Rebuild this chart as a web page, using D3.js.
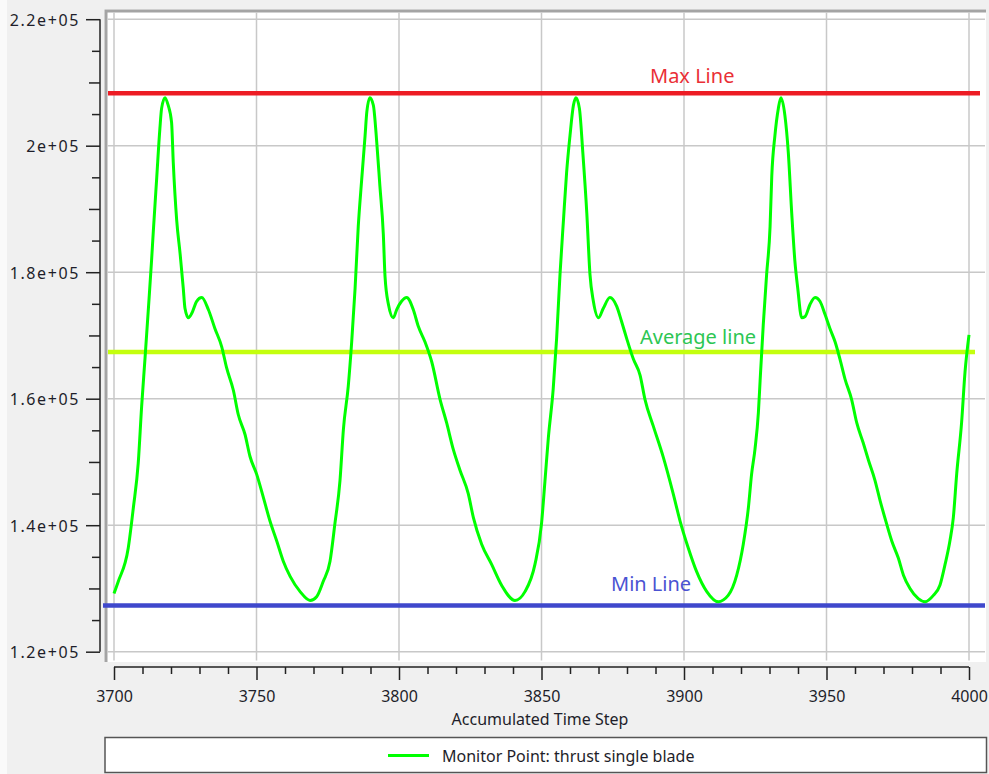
<!DOCTYPE html>
<html lang="en">
<head>
	<meta charset="UTF-8">
	<script src="https://d3js.org/d3.v7.min.js"></script>
	<title>Monitor Point: thrust single blade</title>
	<style>
		body {
			margin: 0;
			background: #f0f0f0;
		}
		svg {
			display: block;
			font-family: "Noto Sans", sans-serif;
		}
	</style>
</head>
<body>
	<svg width="989" height="774"></svg>

	<script>
		// values
		const timeSteps = [
			3700, 3701.5, 3705, 3706.8, 3708.5, 3709.7, 3710.9, 3712, 3713.2, 3713.8, 3715, 3716.1, 3716.7, 3717.9,
			3719, 3720.2, 3720.8, 3722, 3723.2, 3724.3, 3724.9, 3726.1, 3727.3, 3729, 3730.8, 3733.1, 3735.4, 3737.8,
			3739.5, 3741.9, 3743.6, 3746, 3747.7, 3750.1, 3752.4, 3754.7, 3757.1, 3759.4, 3761.8, 3765.3, 3768.8,
			3771.1, 3773.4,
			3775.8, 3777.5, 3779.3, 3780.5, 3782.2, 3783.4, 3784.6, 3785.7, 3786.9, 3788.1, 3788.7, 3789.8, 3791,
			3792.2, 3793.3, 3794.5, 3795.1, 3796.3, 3798, 3799.2, 3800.9, 3802.7, 3805, 3806.8, 3809.1, 3811.5,
			3814.4, 3816.7, 3819.1, 3821.4, 3824.3, 3826.1, 3829, 3832.5, 3836, 3840.7, 3844.2, 3847.7, 3850,
			3851.2, 3852.4, 3854.1, 3855.3, 3856.5, 3857.7, 3858.8, 3860, 3861.2, 3862.1, 3863.3, 3864.5, 3865.9,
			3867, 3868.2, 3870, 3871.7, 3874, 3876.4, 3878.1, 3879.9, 3882.2, 3884.6, 3886.3, 3889.2, 3892.7,
			3896.2, 3898.6, 3901.5, 3904.4, 3908, 3912, 3915.5, 3918.5, 3920.8, 3922.6, 3923.7,
			3924.9, 3926.1, 3926.7, 3927.8, 3929, 3930.2, 3930.8, 3931.9, 3933.1, 3934, 3935.4, 3936.6, 3937.8,
			3938.9, 3939.9, 3941.3, 3942.5, 3944.2, 3946, 3947.7, 3949.5, 3951.2, 3953, 3954.7, 3956.5, 3958.8,
			3960.6, 3962.9, 3964.7, 3967, 3968.8, 3971.1, 3972.9, 3975.2, 3977, 3979.3, 3982.2, 3984.6, 3987.5,
			3989.8, 3991.6, 3993.3, 3994.5, 3995.7, 3997.4, 3998.6, 4000
		];
		const thrust = [
			129200, 131100, 136400, 142800, 149800, 158800, 166500, 173800, 182000, 186500, 195000, 202700, 205900, 207600,
			206400, 203700, 197300, 188200, 182900, 177500, 174300, 172800, 173500, 175400, 176000, 174100, 171100, 168200,
			164900, 161300, 157500, 154300, 150900, 148000, 144400, 140700, 137500, 134300, 131900, 129500, 128100,
			128700, 131100,
			134300, 140200, 147100, 155200, 162000, 169000, 177500, 187200, 194600, 201600, 205300, 207600, 206400,
			200500, 193600, 186000, 179300, 174900, 172800, 174100, 175400, 176000, 174100, 171400, 169000, 165800,
			159900, 156200, 151900, 148700, 145000, 141200, 137000, 133800, 130500, 128100, 129500, 133800, 140200,
			146900, 153800, 161500, 169500, 179700, 188200, 195700, 201600, 206400, 207600, 205900, 198900, 189300,
			179700, 175400, 172800, 174300, 176000, 174600, 172200, 169500, 166300, 163700, 159900, 155700, 150800,
			145000, 140700, 136400, 132700, 129500, 127900, 128900, 132100, 137000, 142800, 148000,
			152000, 157800, 162800, 171600, 179700, 187200, 195200, 201600, 205900, 207600, 204800, 198900, 189300,
			181800, 177500, 172800, 173000, 174900, 176000, 175400, 173300, 171100, 169000, 166300, 163100, 159900,
			156200, 153000, 150300, 147100, 143900, 140200, 137500, 134800, 132100, 130000, 128400, 127900, 128900,
			130500, 133800, 137500, 141200, 148200, 156200, 164200, 170100
		];

		const refNames = ['Max Line', 'Average line', 'Min Line'];
		const refValues = [208300, 167400, 127300];
		const refColors = ['#ed1c24', '#c4ff0e', '#3f48cc'];
		const refTextColors = ['#ea2f36', '#2dc653', '#4a52d2'];

		const xTicks = d3.range(3700, 4001, 50);
		const yTicks = d3.range(120000, 220001, 20000);
		const seriesName = 'Monitor Point: thrust single blade';
		const xTitle = 'Accumulated Time Step';

		const svg = d3.select('svg');

		const x = d3.scaleLinear().domain([3700, 4000]).range([114, 969]);
		const y = d3.scaleLinear().domain([120000, 220000]).range([651.7, 19.2]);

		svg.append('rect').attr('width', 989).attr('height', 774).attr('fill', '#f0f0f0');
		svg.append('rect').attr('width', 7).attr('height', 774).attr('fill', '#fafafa');

		// plot frame
		svg.append('rect')
			.attr('x', 104.5).attr('y', 9.5)
			.attr('width', 881.5).attr('height', 652.5)
			.attr('fill', '#fff');
		svg.append('path')
			.attr('d', 'M106,662V11H986')
			.attr('fill', 'none')
			.attr('stroke', '#a4a4a4')
			.attr('stroke-width', 3);

		// grid
		const grid = svg.append('g').attr('stroke', '#c8c8c8').attr('stroke-width', 1.5);
		grid.selectAll('.vx')
			.data(xTicks)
			.enter()
			.append('line')
			.attr('x1', d => x(d)).attr('x2', d => x(d))
			.attr('y1', 12.5).attr('y2', 660.5);
		grid.selectAll('.hy')
			.data(yTicks)
			.enter()
			.append('line')
			.attr('x1', 107.5).attr('x2', 985)
			.attr('y1', d => y(d)).attr('y2', d => y(d));

		// reference lines
		const refSpan = [[108, 980], [108, 975], [103, 985]];
		svg.append('g')
			.selectAll('line')
			.data(refValues)
			.enter()
			.append('line')
			.attr('x1', (d, i) => refSpan[i][0])
			.attr('x2', (d, i) => refSpan[i][1])
			.attr('y1', d => y(d)).attr('y2', d => y(d))
			.attr('stroke', (d, i) => refColors[i])
			.attr('stroke-width', 4.5);

		// series
		const line = d3.line()
			.x(d => x(d[0]))
			.y(d => y(d[1]))
			.curve(d3.curveMonotoneX);
		svg.append('path')
			.datum(d3.zip(timeSteps, thrust))
			.attr('d', line)
			.attr('fill', 'none')
			.attr('stroke', '#00ff00')
			.attr('stroke-width', 3)
			.attr('stroke-linejoin', 'round');

		// reference labels
		const refLabelPos = [[650, 82.5], [640, 344], [611, 591]];
		svg.append('g')
			.selectAll('text')
			.data(refNames)
			.enter()
			.append('text')
			.attr('x', (d, i) => refLabelPos[i][0])
			.attr('y', (d, i) => refLabelPos[i][1])
			.attr('fill', (d, i) => refTextColors[i])
			.style('font-size', '20px')
			.text(d => d);

		// y axis
		const yAxis = d3.axisLeft(y)
			.tickValues(d3.range(120000, 220001, 5000))
			.tickSize(14)
			.tickPadding(6)
			.tickFormat(d => d % 20000 === 0 ? `${+(d / 1e5).toFixed(1)}e+05` : '');
		const gy = svg.append('g').attr('transform', 'translate(100,0)').call(yAxis);
		gy.select('.domain').attr('d', `M0,${y(220000)}V${y(120000)}`);
		gy.selectAll('.tick line')
			.attr('x2', d => d % 20000 === 0 ? -14 : (d % 10000 === 0 ? -11 : -8));
		gy.selectAll('.tick text')
			.attr('dy', null)
			.attr('y', 6)
			.style('font-size', '16px')
			.style('letter-spacing', '1.6px');

		// x axis
		const xAxis = d3.axisBottom(x)
			.tickValues(d3.range(3700, 4001, 10))
			.tickSize(7)
			.tickFormat(d => d % 50 === 0 ? d : '');
		const gx = svg.append('g').attr('transform', 'translate(0,667)').call(xAxis);
		gx.select('.domain').attr('d', `M${x(3700)},0H${x(4000)}`);
		gx.selectAll('.tick line').attr('y2', d => d % 50 === 0 ? 13 : 7);
		gx.selectAll('.tick text')
			.attr('dy', null)
			.attr('y', 35)
			.style('font-size', '16px');

		svg.selectAll('.domain, .tick line').attr('stroke', '#222').attr('stroke-width', 1.5);
		svg.selectAll('.tick text').attr('fill', '#1e1e2a').style('font-family', '"Noto Sans", sans-serif');

		svg.append('text')
			.attr('x', 540).attr('y', 725)
			.attr('text-anchor', 'middle')
			.attr('fill', '#1e1e2a')
			.style('font-size', '16px')
			.text(xTitle);

		// legend
		svg.append('rect')
			.attr('x', 105).attr('y', 737.5)
			.attr('width', 881.5).attr('height', 35)
			.attr('fill', '#fff')
			.attr('stroke', '#555')
			.attr('stroke-width', 1.5);
		svg.append('line')
			.attr('x1', 388).attr('x2', 429)
			.attr('y1', 755.5).attr('y2', 755.5)
			.attr('stroke', '#00ff00')
			.attr('stroke-width', 3);
		svg.append('text')
			.attr('x', 442).attr('y', 762)
			.attr('fill', '#1e1e2a')
			.style('font-size', '16px')
			.text(seriesName);
	</script>
</body>
</html>
